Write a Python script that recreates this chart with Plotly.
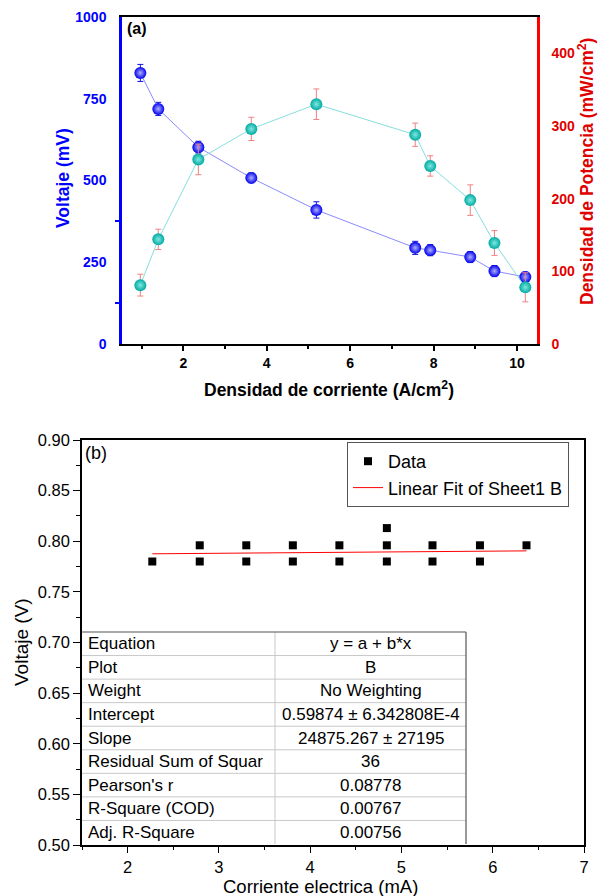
import plotly.graph_objects as go

# ---------------- Panel (a) data ----------------
current_density = [0.97, 1.40, 2.36, 3.63, 5.19, 7.56, 7.92, 8.88, 9.46, 10.20]
voltage_mV = [829, 719, 602, 508, 410, 294, 287, 266, 223, 205]
voltage_err = [26, 20, 18, 15, 25, 20, 17, 17, 17, 15]
power_density = [81, 144, 254, 296, 330, 288, 245, 198, 139, 78]
power_err = [15, 14, 21, 16, 21, 16, 14, 21, 17, 20]

# ---------------- Panel (b) data ----------------
current_mA = [2.27, 2.79, 2.79, 3.30, 3.30, 3.81, 3.81, 4.32, 4.32,
              4.84, 4.84, 4.84, 5.34, 5.34, 5.86, 5.86, 6.37]
voltage_V = [0.780, 0.796, 0.780, 0.796, 0.780, 0.796, 0.780, 0.796, 0.780,
             0.813, 0.796, 0.780, 0.796, 0.780, 0.796, 0.780, 0.796]
fit_x = [2.27, 6.37]
fit_y = [0.7876, 0.7905]

table_labels = ["Equation", "Plot", "Weight", "Intercept", "Slope",
                "Residual Sum of Squar", "Pearson's r", "R-Square (COD)", "Adj. R-Square"]
table_values = ["y = a + b*x", "B", "No Weighting", "0.59874 \u00b1 6.342808E-4",
                "24875.267 \u00b1 27195", "36", "0.08778", "0.00767", "0.00756"]

W, H = 599, 896
def px(x):
    return x / W
def py(y):
    return 1 - y / H

FONT = "Liberation Sans, Arial, sans-serif"

fig = go.Figure()

# Panel (a) traces
fig.add_trace(go.Scatter(
    x=current_density, y=voltage_mV, mode="lines+markers",
    line=dict(color="#8a8aff", width=1),
    marker=dict(color="#0000ee", size=12, line=dict(width=0),
                gradient=dict(type="radial", color="#b0b0ff")),
    error_y=dict(type="data", array=voltage_err, visible=True,
                 color="#1010e0", thickness=1, width=3),
    xaxis="x", yaxis="y", showlegend=False))

fig.add_trace(go.Scatter(
    x=current_density, y=power_density, mode="lines+markers",
    line=dict(color="#86dede", width=1),
    marker=dict(color="#00aaa2", size=12, line=dict(width=0),
                gradient=dict(type="radial", color="#7fe8e0")),
    error_y=dict(type="data", array=power_err, visible=True,
                 color="#f08080", thickness=1, width=3),
    xaxis="x", yaxis="y2", showlegend=False))

# Panel (b) traces
fig.add_trace(go.Scatter(
    x=current_mA, y=voltage_V, mode="markers", name="Data",
    marker=dict(symbol="square", color="black", size=8, line=dict(width=0)),
    xaxis="x2", yaxis="y3"))
fig.add_trace(go.Scatter(
    x=fit_x, y=fit_y, mode="lines", name="Linear Fit of Sheet1 B",
    line=dict(color="#ff0000", width=1),
    xaxis="x2", yaxis="y3"))

def boldf(c, s=14):
    return dict(family=FONT, size=s, color=c, weight="bold")

layout = dict(
    width=W, height=H, margin=dict(l=0, r=0, t=0, b=0, pad=0, autoexpand=False),
    paper_bgcolor="white", plot_bgcolor="white",
    font=dict(family=FONT, color="black"),
    xaxis=dict(domain=[px(122), px(537)], anchor="y", range=[0.53, 10.48],
               automargin=False,
               showline=True, linecolor="black", linewidth=2, mirror=True,
               ticks="outside", ticklen=5, tickwidth=1.5, tickcolor="black",
               tick0=0, dtick=2, minor=dict(dtick=1, ticks="outside", ticklen=3,
                                            tickwidth=1.5, tickcolor="black"),
               tickfont=boldf("black"), showgrid=False, zeroline=False),
    yaxis=dict(domain=[py(344), py(17)], anchor="x", range=[0, 1000],
               automargin=False,
               showline=True, linecolor="#0000ff", linewidth=2.5,
               ticks="outside", ticklen=4, tickcolor="rgba(0,0,0,0)",
               tick0=0, dtick=250,
               minor=dict(tickvals=[125, 375], ticks="outside", ticklen=4,
                          tickwidth=1.5, tickcolor="#0000ff"),
               ticklabelstandoff=6,
               tickfont=boldf("#0000ff"), showgrid=False, zeroline=False),
    yaxis2=dict(overlaying="y", side="right", anchor="x", range=[0, 450],
                automargin=False,
                showline=True, linecolor="#ff0000", linewidth=2.5,
                ticks="outside", ticklen=4, tickcolor="rgba(0,0,0,0)",
                tick0=0, dtick=100, ticklabelstandoff=5,
                tickfont=boldf("#e00000"), showgrid=False, zeroline=False),
    xaxis2=dict(domain=[px(82), px(584)], anchor="y3", range=[1.5, 7],
                automargin=False,
                showline=True, linecolor="black", linewidth=1.5, mirror=True,
                ticks="outside", ticklen=6, tickwidth=1.2, tickcolor="black",
                tick0=0, dtick=1,
                minor=dict(dtick=0.5, ticks="outside", ticklen=3, tickwidth=1.2,
                           tickcolor="black"),
                tickfont=dict(family=FONT, size=16.5, color="black"),
                showgrid=False, zeroline=False),
    yaxis3=dict(domain=[py(845), py(440)], anchor="x2", range=[0.5, 0.9],
                automargin=False,
                showline=True, linecolor="black", linewidth=1.5, mirror=True,
                ticks="outside", ticklen=7, tickwidth=1.2, tickcolor="black",
                tick0=0.5, dtick=0.05, tickformat=".2f",
                minor=dict(dtick=0.025, ticks="outside", ticklen=4, tickwidth=1.2,
                           tickcolor="black"),
                tickfont=dict(family=FONT, size=16.5, color="black"),
                showgrid=False, zeroline=False),
    legend=dict(x=px(347), y=py(442), xanchor="left", yanchor="top",
                bgcolor="white", bordercolor="#555555", borderwidth=1,
                font=dict(family=FONT, size=18, color="black"),
                tracegroupgap=0),
)
fig.update_layout(**layout)

annotations = []
def ann(text, x, y, size, color="black", bold=False, angle=0, xanchor="center"):
    annotations.append(dict(
        text=text, x=px(x), y=py(y), xref="paper", yref="paper",
        showarrow=False, textangle=angle, xanchor=xanchor, yanchor="middle",
        font=dict(family=FONT, size=size, color=color,
                  weight="bold" if bold else "normal")))

# Panel (a) titles
ann("(a)", 125, 29, 16, bold=True, xanchor="left")
ann("Voltaje (mV)", 63, 178, 17.5, color="#0000ff", bold=True, angle=-90)
ann("Densidad de Potencia (mW/cm<sup>2</sup>)", 586, 172, 17.5, color="#e00000",
    bold=True, angle=-90)
ann("Densidad de corriente (A/cm<sup>2</sup>)", 329, 389, 17.5, bold=True)

# Panel (b) titles
ann("(b)", 83, 453, 18, xanchor="left")
ann("Voltaje (V)", 21, 642, 19, angle=-90)
ann("Corriente electrica (mA)", 320, 886, 18.5)

# Table
t_left, t_right, t_split, t_top, t_bot = 82, 466, 275, 632, 844
n = len(table_labels)
rh = (t_bot - t_top) / n
shapes = [dict(type="rect", xref="paper", yref="paper",
               x0=px(t_left), x1=px(t_right), y0=py(t_bot), y1=py(t_top),
               fillcolor="white", line=dict(width=0), layer="above")]
for k in range(1, n):
    yy = t_top + k * rh
    shapes.append(dict(type="line", xref="paper", yref="paper",
                       x0=px(t_left), x1=px(t_right), y0=py(yy), y1=py(yy),
                       line=dict(color="#c8c8c8", width=1), layer="above"))
shapes.append(dict(type="line", xref="paper", yref="paper",
                   x0=px(t_split), x1=px(t_split), y0=py(t_bot), y1=py(t_top),
                   line=dict(color="#c8c8c8", width=1), layer="above"))
shapes.append(dict(type="line", xref="paper", yref="paper",
                   x0=px(t_left), x1=px(t_right), y0=py(t_top), y1=py(t_top),
                   line=dict(color="#555555", width=1.2), layer="above"))
shapes.append(dict(type="line", xref="paper", yref="paper",
                   x0=px(t_right), x1=px(t_right), y0=py(t_bot), y1=py(t_top),
                   line=dict(color="#555555", width=1.2), layer="above"))

for i, (lab, val) in enumerate(zip(table_labels, table_values)):
    yc = t_top + (i + 0.5) * rh
    ann(lab, t_left + 4, yc, 17, xanchor="left")
    ann(val, (t_split + t_right) / 2, yc, 17)

fig.update_layout(annotations=annotations, shapes=shapes)
fig.write_html(
    "out.html",
    config={"displayModeBar": False},
    post_script=("document.documentElement.style.margin='0';"
                 "document.body.style.margin='0';"
                 "document.body.style.overflow='hidden';"
                 "document.documentElement.style.overflow='hidden';"))
